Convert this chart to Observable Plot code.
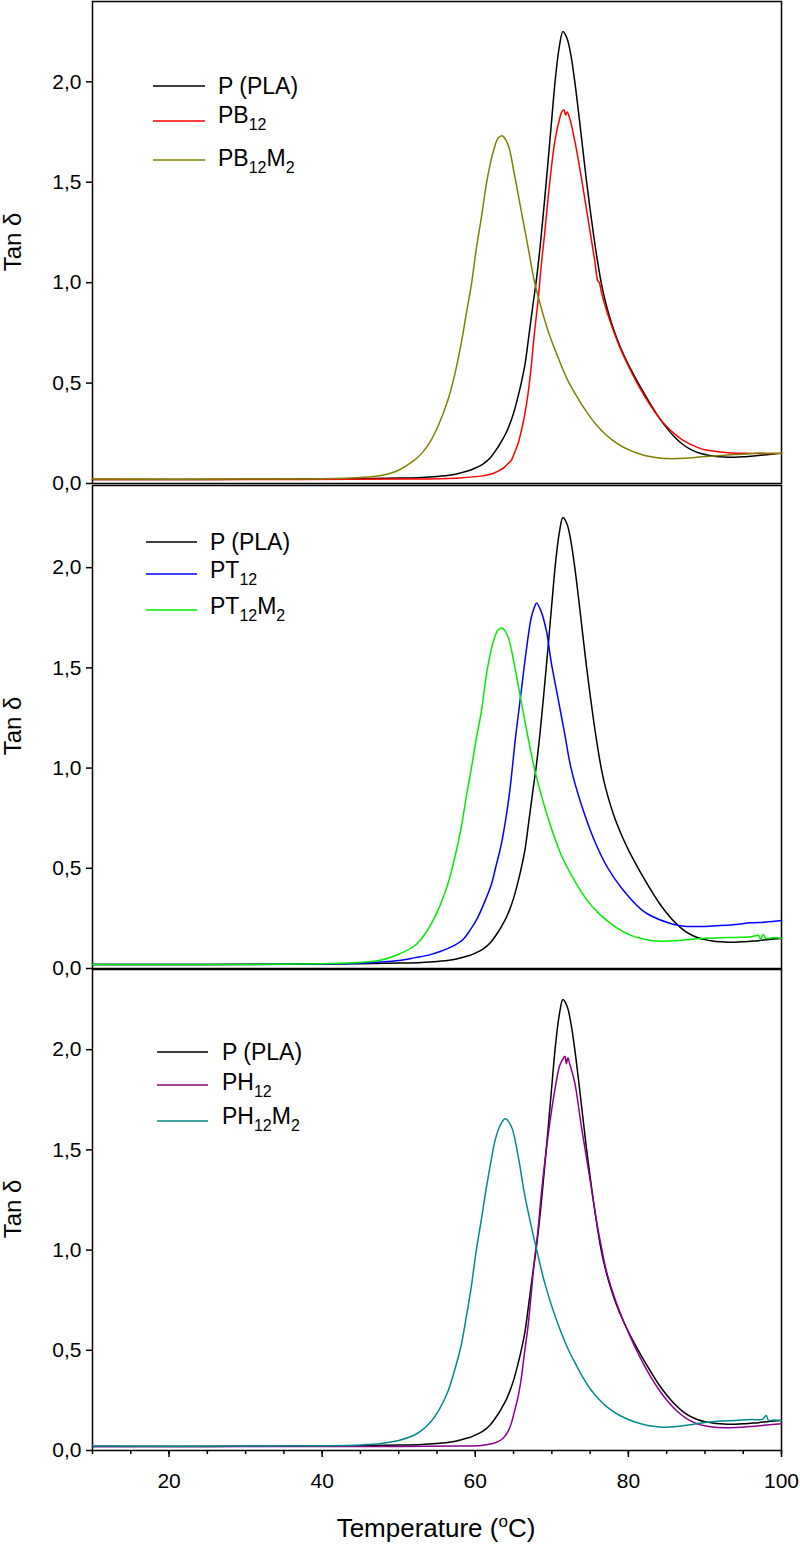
<!DOCTYPE html>
<html><head><meta charset="utf-8">
<script src="https://cdn.jsdelivr.net/npm/d3@7"></script>
<script src="https://cdn.jsdelivr.net/npm/@observablehq/plot@0.6"></script>
<style>
body{margin:0;background:#fff}
#chart{position:relative;width:800px;height:1544px;background:#fff}
#chart svg{position:absolute;left:0}
</style>
</head><body><div id="chart"></div>
<script>
// ---- data: [temperature °C, tan δ] ----
const PLA = [[10,0.020],[20,0.020],[30,0.021],[40,0.022],[45,0.024],[50,0.027],[53,0.030],[55,0.035],[57,0.044],[58,0.052],[59,0.062],[60,0.077],[61,0.097],[62,0.130],[63,0.183],[63.5,0.215],[64,0.250],[64.5,0.295],[65,0.350],[65.5,0.420],[66,0.500],[66.5,0.595],[67,0.735],[67.5,0.880],[68,1.020],[68.5,1.190],[69,1.390],[69.5,1.600],[70,1.820],[70.5,2.030],[71,2.180],[71.45,2.250],[72,2.215],[72.5,2.130],[73,2.000],[73.5,1.845],[74,1.680],[74.5,1.515],[75,1.365],[75.5,1.225],[76,1.100],[76.5,0.990],[77,0.905],[77.5,0.835],[78,0.775],[78.5,0.722],[79,0.675],[80,0.592],[81,0.520],[82,0.452],[83,0.388],[84,0.328],[85,0.277],[86,0.233],[87,0.198],[88,0.172],[89,0.155],[90,0.144],[91,0.137],[92,0.133],[93,0.131],[94,0.131],[95,0.133],[96,0.136],[97,0.139],[98,0.143],[99,0.147],[100,0.150]];
const PB12 = [[10,0.020],[30,0.020],[50,0.022],[58,0.028],[61,0.038],[62,0.046],[63,0.062],[63.8,0.080],[64.3,0.100],[64.7,0.115],[65.1,0.150],[65.6,0.200],[66.0,0.260],[66.4,0.330],[66.9,0.450],[67.3,0.580],[67.7,0.740],[68.2,0.910],[68.6,1.080],[69.05,1.240],[69.7,1.490],[70.4,1.706],[71.0,1.814],[71.3,1.850],[71.6,1.860],[71.8,1.835],[72.0,1.850],[72.3,1.823],[73.0,1.706],[73.85,1.524],[74.7,1.325],[75.6,1.110],[76.0,1.010],[76.2,1.000],[76.5,0.950],[77,0.880],[77.5,0.820],[78,0.765],[78.5,0.715],[79,0.668],[80,0.585],[81,0.510],[82,0.443],[83,0.382],[84,0.328],[85,0.284],[86,0.248],[87,0.219],[88,0.197],[89,0.180],[90,0.168],[92,0.157],[94,0.151],[96,0.150],[98,0.149],[100,0.150]];
const PB12M2 = [[10,0.022],[30,0.022],[40,0.024],[45,0.030],[47.7,0.040],[49.9,0.065],[52.0,0.115],[53,0.150],[54.2,0.214],[55.3,0.300],[56.4,0.413],[57.3,0.540],[58.15,0.695],[58.8,0.840],[59.5,0.993],[60.1,1.160],[60.8,1.325],[61.6,1.524],[62.5,1.673],[63.0,1.720],[63.5,1.731],[64.25,1.690],[65.1,1.541],[66.0,1.358],[66.9,1.176],[67.7,1.010],[68.6,0.877],[69.5,0.761],[70.8,0.629],[72.1,0.512],[73,0.450],[74,0.388],[75,0.332],[76,0.284],[77,0.245],[78,0.213],[79,0.188],[80,0.169],[81,0.153],[82,0.141],[83,0.133],[84,0.127],[85.2,0.124],[87.4,0.126],[89.6,0.133],[91.7,0.138],[93.9,0.144],[96,0.148],[97,0.152],[98.3,0.149],[100,0.150]];
const PT12 = [[10,0.020],[30,0.020],[40,0.022],[45,0.026],[47.7,0.032],[50,0.040],[52,0.053],[54,0.068],[55.5,0.086],[57,0.110],[58.4,0.145],[59.3,0.190],[60.3,0.253],[61.2,0.330],[62.1,0.419],[62.7,0.510],[63.4,0.619],[64.0,0.750],[64.5,0.884],[65.3,1.167],[66.0,1.383],[66.65,1.583],[67.3,1.749],[67.7,1.800],[68.0,1.824],[68.6,1.782],[69.3,1.683],[69.9,1.533],[70.8,1.350],[71.7,1.167],[72.5,1.001],[73.85,0.818],[75.6,0.635],[77.3,0.502],[79.1,0.402],[81.7,0.294],[83,0.262],[85.6,0.223],[87,0.212],[88.6,0.209],[90,0.210],[92,0.214],[94,0.220],[96,0.228],[98,0.232],[100,0.240]];
const PT12M2 = [[10,0.020],[30,0.020],[40,0.024],[45,0.030],[47.7,0.042],[49.9,0.070],[52.0,0.111],[53,0.150],[54.2,0.219],[55.3,0.305],[56.4,0.419],[57.3,0.550],[58.15,0.701],[58.8,0.850],[59.5,1.001],[60.1,1.140],[60.8,1.284],[61.6,1.500],[62.5,1.649],[63.0,1.690],[63.5,1.699],[64.25,1.658],[65.1,1.516],[66.0,1.333],[66.9,1.151],[67.7,1.001],[68.6,0.868],[69.5,0.751],[71.2,0.569],[73.0,0.436],[74.7,0.336],[76,0.280],[77.3,0.236],[78.5,0.203],[79.5,0.180],[80.5,0.163],[81.7,0.150],[83,0.140],[84.3,0.136],[86,0.138],[88,0.145],[89.5,0.150],[92,0.153],[94,0.155],[96,0.158],[97,0.165],[97.3,0.145],[97.6,0.170],[98,0.150],[99,0.155],[100,0.150]];
const PH12 = [[10,0.020],[30,0.020],[50,0.020],[58,0.022],[60.8,0.025],[62,0.032],[62.9,0.043],[63.6,0.060],[64.25,0.093],[64.7,0.135],[65.1,0.192],[65.6,0.270],[66.0,0.358],[66.4,0.480],[66.9,0.623],[67.3,0.780],[67.7,0.939],[68.2,1.100],[68.6,1.270],[69.5,1.569],[70.4,1.801],[71.0,1.917],[71.4,1.950],[71.7,1.967],[71.9,1.930],[72.1,1.960],[72.3,1.934],[73.0,1.834],[73.85,1.619],[74.7,1.420],[75.6,1.204],[76,1.110],[76.5,1.010],[77,0.915],[77.5,0.845],[78,0.785],[78.5,0.730],[79,0.680],[80,0.590],[81,0.505],[82,0.430],[83,0.362],[84,0.303],[85,0.252],[86,0.210],[87,0.176],[88,0.150],[89,0.133],[90,0.123],[91,0.117],[92.5,0.114],[94,0.115],[96,0.120],[98,0.127],[100,0.133]];
const PH12M2 = [[10,0.022],[30,0.022],[40,0.024],[45,0.028],[47.7,0.035],[50,0.050],[52.0,0.076],[53,0.100],[54.2,0.143],[55.3,0.205],[56.4,0.292],[57.3,0.400],[58.15,0.524],[58.8,0.660],[59.5,0.823],[60.1,0.990],[60.8,1.154],[61.4,1.300],[62.1,1.453],[62.6,1.550],[63.2,1.618],[63.9,1.655],[64.7,1.618],[65.6,1.469],[66.4,1.287],[67.3,1.121],[68.2,0.972],[69.05,0.839],[70.4,0.673],[72.1,0.508],[73,0.440],[74,0.368],[75,0.308],[76,0.262],[77,0.224],[78,0.195],[79,0.172],[80,0.155],[81,0.141],[82,0.130],[83,0.122],[84.5,0.116],[86,0.118],[88,0.128],[90,0.140],[92,0.147],[94,0.150],[96,0.155],[97.5,0.155],[98,0.175],[98.3,0.150],[99,0.152],[100,0.150]];

const Y_TICKS = [0, 0.5, 1, 1.5, 2];
const X_TICKS = [20, 40, 60, 80, 100];
const X_MINOR = [10, 15, 20, 25, 30, 35, 40, 45, 50, 55, 60, 65, 70, 75, 80, 85, 90, 95, 100];
const X_DOMAIN = [10, 100];
const Y_LABEL = "Tan δ";

// legend labels as [text, isSubscript] segments
const LBL_PLA = [["P (PLA)", false]];
const LBL_PB12 = [["PB", false], ["12", true]];
const LBL_PB12M2 = [["PB", false], ["12", true], ["M", false], ["2", true]];
const LBL_PT12 = [["PT", false], ["12", true]];
const LBL_PT12M2 = [["PT", false], ["12", true], ["M", false], ["2", true]];
const LBL_PH12 = [["PH", false], ["12", true]];
const LBL_PH12M2 = [["PH", false], ["12", true], ["M", false], ["2", true]];

const FONT = "'Liberation Sans', Arial, Helvetica, sans-serif";
const fmt = d => d.toFixed(1).replace(".", ",");

function makePanel(cfg) {
  const marks = [
    Plot.frame({stroke: "#000", strokeWidth: 1.5}),
    Plot.axisY({ticks: Y_TICKS, tickSize: 6, tickPadding: 5, tickFormat: fmt, label: null, strokeWidth: 1.5, fontSize: 21}),
    ...cfg.series.map(s => Plot.line(s.data, {x: d => d[0], y: d => d[1], stroke: s.color, strokeWidth: 1.5, curve: "catmull-rom"}))
  ];
  if (cfg.showX) {
    marks.push(
      Plot.axisX({ticks: X_MINOR, tickSize: 4, tickFormat: () => "", label: null, strokeWidth: 1.5}),
      Plot.axisX({ticks: X_TICKS, tickSize: 7, tickPadding: 16, label: null, strokeWidth: 1.5, fontSize: 21})
    );
  }
  const svg = Plot.plot({
    width: 800, height: cfg.height,
    marginLeft: 92, marginRight: 19, marginTop: cfg.mTop, marginBottom: cfg.mBottom,
    x: cfg.showX ? {domain: X_DOMAIN} : {domain: X_DOMAIN, axis: null},
    y: {domain: [0, cfg.yMax]},
    style: {fontFamily: FONT, fontSize: "21px", background: "transparent", color: "#000", overflow: "visible"},
    marks
  });
  svg.style.top = cfg.top + "px";
  const s = d3.select(svg);
  // y title
  s.append("text")
    .attr("transform", `translate(21,${cfg.yMid}) rotate(-90)`)
    .attr("text-anchor", "middle").attr("font-family", FONT).attr("font-size", 24).attr("fill", "#000")
    .text(Y_LABEL);
  // legend
  const g = s.append("g").attr("font-family", FONT).attr("fill", "#000").attr("text-anchor", "start");
  cfg.series.forEach((ser, i) => {
    g.append("line").attr("x1", cfg.leg.x1).attr("x2", cfg.leg.x2)
      .attr("y1", cfg.leg.ly[i]).attr("y2", cfg.leg.ly[i])
      .attr("stroke", ser.color).attr("stroke-width", 1.5);
    const t = g.append("text").attr("x", cfg.leg.tx).attr("y", cfg.leg.ty[i])
      .attr("font-size", 23).attr("text-anchor", "start");
    let shift = 0;
    ser.label.forEach(([txt, sub]) => {
      const target = sub ? 7 : 0;
      t.append("tspan").attr("dy", target - shift).attr("font-size", sub ? 16 : 23).text(txt);
      shift = target;
    });
  });
  if (cfg.showX) {
    const xt = s.append("text").attr("x", 436).attr("y", 569).attr("text-anchor", "middle")
      .attr("font-family", FONT).attr("font-size", 26).attr("fill", "#000");
    xt.append("tspan").text("Temperature (");
    xt.append("tspan").attr("dy", -10).attr("font-size", 17).text("o");
    xt.append("tspan").attr("dy", 10).text("C)");
  }
  document.getElementById("chart").appendChild(svg);
}

makePanel({
  top: 0, height: 484, mTop: 1, mBottom: 1, yMax: 2.4, yMid: 242, showX: false,
  series: [
    {data: PLA, color: "#000000", label: LBL_PLA},
    {data: PB12, color: "#ff0000", label: LBL_PB12},
    {data: PB12M2, color: "#808000", label: LBL_PB12M2}
  ],
  leg: {x1: 153, x2: 205, tx: 218, ly: [86, 121, 160], ty: [94, 123, 166]}
});
makePanel({
  top: 484, height: 485, mTop: 1, mBottom: 1, yMax: 2.41, yMid: 242, showX: false,
  series: [
    {data: PLA, color: "#000000", label: LBL_PLA},
    {data: PT12, color: "#0000ff", label: LBL_PT12},
    {data: PT12M2, color: "#00ee00", label: LBL_PT12M2}
  ],
  leg: {x1: 146, x2: 197, tx: 210, ly: [58, 90, 126], ty: [66, 94, 130]}
});
makePanel({
  top: 968, height: 576, mTop: 1, mBottom: 94, yMax: 2.4, yMid: 241, showX: true,
  series: [
    {data: PLA, color: "#000000", label: LBL_PLA},
    {data: PH12, color: "#8b008b", label: LBL_PH12},
    {data: PH12M2, color: "#008b8b", label: LBL_PH12M2}
  ],
  leg: {x1: 157, x2: 208, tx: 222, ly: [84, 117, 153], ty: [92, 122, 156]}
});
</script></body></html>
